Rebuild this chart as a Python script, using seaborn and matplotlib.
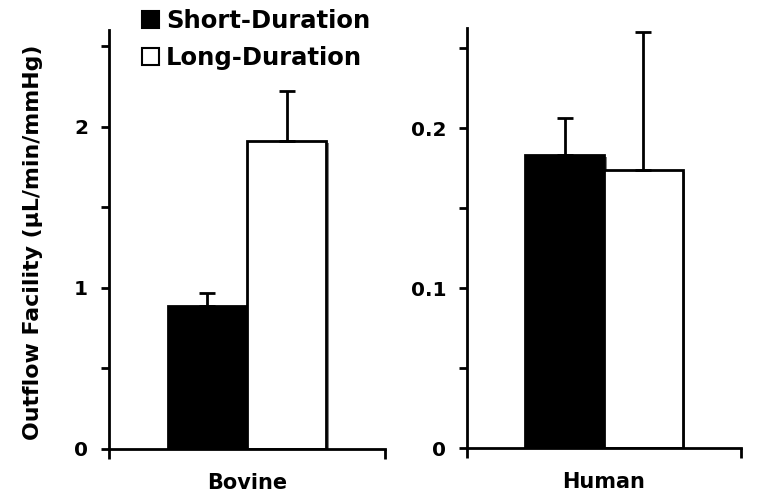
import pandas as pd
import seaborn as sns
import matplotlib.pyplot as plt
import matplotlib.patheffects as pe
from matplotlib.patches import Patch
from matplotlib.ticker import MultipleLocator

species = ["Bovine", "Human"]
durations = ["Short-Duration", "Long-Duration"]
bovine_mean = [0.89, 1.91]
bovine_err = [0.08, 0.31]
human_mean = [0.183, 0.174]
human_err = [0.023, 0.086]

colors = {"Short-Duration": "black", "Long-Duration": "white"}

sns.set_theme(style="ticks", rc={"axes.edgecolor": "black", "text.color": "black",
                                 "axes.labelcolor": "black", "xtick.color": "black",
                                 "ytick.color": "black"})
plt.rcParams["font.family"] = ["DejaVu Sans"]
plt.rcParams["font.weight"] = "bold"

fig = plt.figure(figsize=(7.58, 5.03), dpi=100)
ax1 = fig.add_axes([0.1438, 0.1074, 0.364, 0.833])
ax2 = fig.add_axes([0.616, 0.1093, 0.3615, 0.835])

panels = [
    (ax1, "Bovine", bovine_mean, bovine_err, 2.6, 1, 0.5),
    (ax2, "Human", human_mean, human_err, 0.2625, 0.1, 0.05),
]

shadow = [pe.SimplePatchShadow(offset=(2, -1.5), shadow_rgbFace="0.45", alpha=0.9), pe.Normal()]

for ax, name, means, errs, top, major, minor in panels:
    df = pd.DataFrame({"species": name, "duration": durations, "value": means, "err": errs})
    sns.barplot(data=df, x="species", y="value", hue="duration", hue_order=durations,
                palette=colors, edgecolor="black", linewidth=2, width=0.575,
                errorbar=None, legend=False, ax=ax)
    for bar, e in zip(ax.patches, errs):
        bar.set_path_effects(shadow)
        cx = bar.get_x() + bar.get_width() / 2
        ax.errorbar(cx, bar.get_height(), yerr=[[0], [e]], fmt="none", ecolor="black",
                    elinewidth=2, capsize=6, capthick=2, zorder=1)
    ax.set_xlim(-0.5, 0.5)
    ax.set_ylim(0, top)
    ax.yaxis.set_major_locator(MultipleLocator(major))
    ax.yaxis.set_minor_locator(MultipleLocator(minor))
    ax.set_xticks([-0.5, 0.5])
    ax.set_xticklabels([])
    ax.set_xlabel(name, fontsize=15, fontweight="bold", labelpad=7)
    ax.set_ylabel("")
    ax.tick_params(axis="y", which="both", direction="out", length=6, width=2, labelsize=14.5, pad=9)
    ax.tick_params(axis="x", which="both", direction="out", length=7, width=2)
    for lbl in ax.get_yticklabels():
        lbl.set_fontweight("bold")
    for s in ["left", "bottom"]:
        ax.spines[s].set_linewidth(2)
    sns.despine(ax=ax)

ax1.yaxis.set_major_formatter(plt.FuncFormatter(lambda v, p: f"{v:g}"))
ax2.yaxis.set_major_formatter(plt.FuncFormatter(lambda v, p: "0" if v == 0 else f"{v:.1f}"))

fig.text(0.043, 0.518, "Outflow Facility (µL/min/mmHg)", rotation=90, ha="center", va="center",
         fontsize=15.8, fontweight="bold")

handles = [Patch(facecolor=colors[d], edgecolor="black", linewidth=1.5, label=d) for d in durations]
fig.legend(handles=handles, loc="upper left", bbox_to_anchor=(0.158, 1.026), frameon=False,
           handlelength=0.7, handleheight=0.7, handletextpad=0.3, labelspacing=0.55,
           prop={"size": 17.5, "weight": "bold"})

plt.savefig("out.png", dpi=100)
